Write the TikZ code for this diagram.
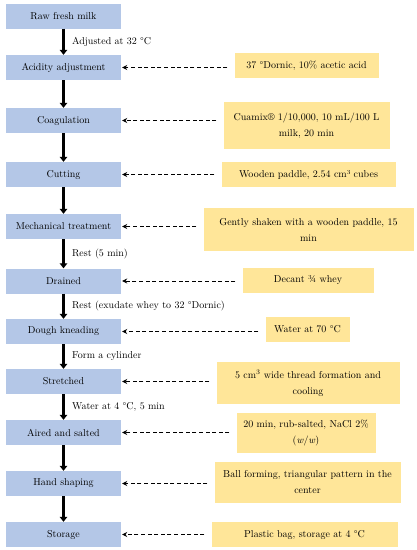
\documentclass[tikz,border=0pt]{standalone}
\usepackage{amsmath}
\usepackage{tikz}
\usetikzlibrary{positioning,arrows.meta}

\definecolor{stageblue}{HTML}{B4C7E7}
\definecolor{condgold}{HTML}{FFE699}

\begin{document}
\begin{tikzpicture}[x=1pt,y=-1pt,on grid,
	stage/.style={fill=stageblue,minimum width=115pt,minimum height=25pt,inner sep=2pt},
	cond/.style={fill=condgold,minimum height=25pt,align=center,inner sep=3pt},
	flow/.style={line width=2.6pt,-{Triangle[length=5pt,width=7.5pt]}},
	supply/.style={dash pattern=on 4pt off 2.6pt,line width=0.9pt,-{Stealth[length=5pt,width=5pt]},shorten <=7pt,shorten >=1pt},
	lbl/.style={right,xshift=4pt}]
	\useasboundingbox (0,0) rectangle (417,550);

	% process steps
	\node[stage](s1) at (63.5,16){Raw fresh milk};
	\node[stage](s2)[below=51.5pt of s1]{Acidity adjustment};
	\node[stage](s3)[below=53pt of s2]{Coagulation};
	\node[stage](s4)[below=54pt of s3]{Cutting};
	\node[stage](s5)[below=52pt of s4]{Mechanical treatment};
	\node[stage](s6)[below=54.5pt of s5]{Drained};
	\node[stage](s7)[below=50.5pt of s6]{Dough kneading};
	\node[stage](s8)[below=50pt of s7]{Stretched};
	\node[stage](s9)[below=51pt of s8]{Aired and salted};
	\node[stage](s10)[below=51pt of s9]{Hand shaping};
	\node[stage](s11)[below=51pt of s10]{Storage};

	% conditions
	\node[cond,minimum width=144pt](n1)[right=243pt of s2,yshift=2pt]{37 °Dornic, 10\% acetic acid};
	\node[cond,minimum width=166pt,minimum height=47pt](n2)[right=243pt of s3,yshift=-5pt]{Cuamix® 1/10,000, 10 mL/100 L\\[4pt] milk, 20 min};
	\node[cond,minimum width=174pt](n3)[right=245pt of s4]{Wooden paddle, 2.54 cm³ cubes};
	\node[cond,minimum width=210pt,minimum height=43pt](n4)[right=245pt of s5,yshift=-3pt]{Gently shaken with a wooden paddle, 15\\[4pt] min};
	\node[cond,minimum width=131pt](n5)[right=244.5pt of s6,yshift=1pt]{Decant ¾ whey};
	\node[cond,minimum width=84pt](n6)[right=244pt of s7,yshift=2.5pt]{Water at 70 °C};
	\node[cond,minimum width=183pt,minimum height=42pt](n7)[right=244.5pt of s8,yshift=-1.5pt]{5 cm$^3$ wide thread formation and\\[4pt] cooling};
	\node[cond,minimum width=139pt,minimum height=40pt](n8)[right=242.5pt of s9]{20 min, rub-salted, NaCl 2\%\\[4pt] (\textit{w}/\textit{w})};
	\node[cond,minimum width=186pt,minimum height=41pt](n9)[right=244pt of s10,yshift=1pt]{Ball forming, triangular pattern in the\\[4pt] center};
	\node[cond,minimum width=186pt](n10)[right=241pt of s11]{Plastic bag, storage at 4 °C};

	\path
	(s1) edge[flow] node[lbl]{Adjusted at 32 °C} (s2)
	(s2) edge[flow] (s3)
	(s3) edge[flow] (s4)
	(s4) edge[flow] (s5)
	(s5) edge[flow] node[lbl]{Rest (5 min)} (s6)
	(s6) edge[flow] node[lbl]{Rest (exudate whey to 32 °Dornic)} (s7)
	(s7) edge[flow] node[lbl]{Form a cylinder} (s8)
	(s8) edge[flow] node[lbl]{Water at 4 °C, 5 min} (s9)
	(s9) edge[flow] (s10)
	(s10) edge[flow] (s11);

	\path
	(n1.west |- s2) edge[supply] (s2)
	(n2.west |- s3) edge[supply] (s3)
	(n3.west |- s4) edge[supply] (s4)
	(n4.west |- s5) edge[supply] (s5)
	(n5.west |- s6) edge[supply] (s6)
	(n6.west |- s7) edge[supply] (s7)
	(n7.west |- s8) edge[supply] (s8)
	(n8.west |- s9) edge[supply] (s9)
	(n9.west |- s10) edge[supply] (s10)
	(n10.west |- s11) edge[supply] (s11);
\end{tikzpicture}
\end{document}
